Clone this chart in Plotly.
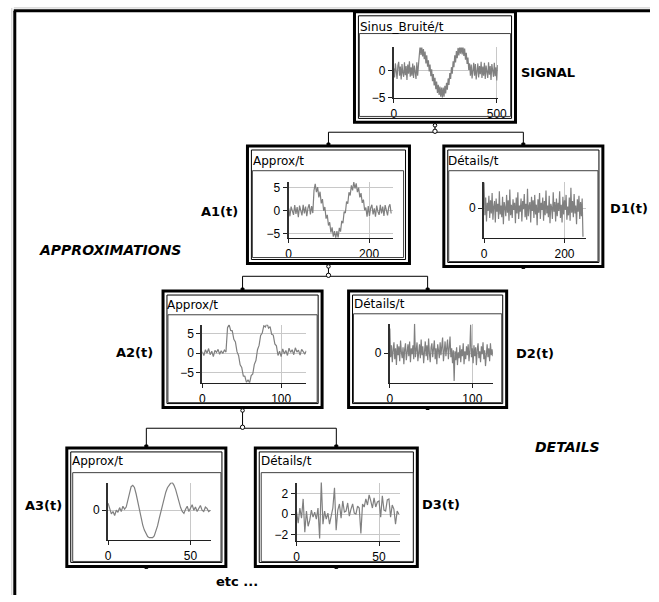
import plotly.graph_objects as go

# ---------------- data ----------------
signal_step = 4
signal = [0.5, -1.2, 1.4, -0.3, -1.5, 1.0, 1.7, -0.9, 0.8, -1.6, 1.3, -0.4, -1.1, 1.6, -0.8,
          0.9, -1.7, 1.2, -0.5, 1.8, -1.1, 0.7, -0.9, 1.4, -1.3, 1.0, -0.2, -1.5, 1.6, -0.9, 1.1,
          3.1, 4.8, 3.0, 4.5, 2.7, 4.1, 2.2, 3.6, 1.4, 2.9, 0.8, 2.0, -0.1, 1.2, -1.0, 0.3,
          -1.9, -0.6, -2.7, -1.3, -3.4, -2.0, -4.1, -2.6, -4.5, -2.9, -4.8, -3.1, -5.0,
          -3.1, -4.8, -2.8, -4.2, -2.2, -3.5, -1.4, -2.6, -0.4, -1.5, 0.7, -0.5, 1.8, 0.7,
          2.9, 1.6, 3.7, 2.4, 4.3, 2.9, 4.7, 3.2,
          4.8, 3.1, 4.7, 2.8, 4.2, 2.1, 3.4, 1.3, 2.5, 0.2, 1.4, -0.9,
          1.2, -1.4, 0.6, 1.5, -0.9, 1.3, -1.6, 0.4, 1.4, -1.2, 0.9, -0.6, 1.7, -1.3, 0.8,
          -0.9, 1.5, -1.5, 1.0, -0.2, -1.3, 1.6, -0.7, 0.9, -1.7, 1.3, -0.3, -1.1, 1.5, -1.0,
          0.7, -1.8, 1.1]

a1_step = 3
a1 = [0.5, -1.2, 0.9, -0.3, -0.9, 1.2, -0.7, 0.8, -1.4, 1.1, -0.4, -1.0, 1.3, -0.6, 0.9,
      -1.2, 0.6, 1.4, -0.8, 1.0, -0.5,
      4.4, 5.8, 4.0, 5.1, 2.9, 4.1, 1.6, 2.5, 0.0, 0.8, -1.7, -0.9, -3.2, -2.5, -4.7,
      -3.6, -5.6, -4.4, -5.9,
      -4.4, -5.8, -3.7, -4.5, -2.2, -2.7, -0.2, -0.5, 2.0, 1.5, 4.0, 3.3, 5.5, 4.4, 6.2,
      4.8, 5.9, 4.0, 5.0, 2.9, 3.8, 1.7, 2.4, 0.1, 0.7, -1.3,
      1.0, -1.1, 0.6, 1.3, -0.8, 0.5, -1.3, 1.1, -0.2, -0.9, 1.3, -0.6, 0.9, -1.1, 1.2,
      -0.3, -1.0, 0.8, 1.4, -0.6]

d1_step = 2
d1 = [2.9, -0.8, 1.2, -1.5, 0.6, -0.3, 1.4, -1.1, 0.9, -0.6, 1.7, -1.3, 0.2, 0.8, -1.6,
      1.1, -0.4, 0.5, -1.2, 1.9, -0.7, 0.3, -1.0, 1.3, -1.8, 0.7, 0.1, -0.9, 1.5, -0.5,
      0.9, -1.4, 2.1, -0.8, 0.4, -1.1, 1.0, -0.2, 0.6, -1.7, 1.2, -0.6, 1.8, -1.2, 0.3,
      -0.4, 1.1, -1.5, 0.8, -0.1, 1.6, -1.0, 0.5, -1.3, 2.2, -0.9, 0.2, 0.7, -1.6, 1.3,
      -0.3, 0.9, -1.1, 1.5, -0.7, 0.4, -1.9, 1.0, -0.5, 1.7, -1.2, 0.6, -0.2, 1.2, -1.4,
      0.8, -0.8, 2.0, -0.6, 0.3, -1.0, 1.4, -1.7, 0.5, 0.1, -1.2, 1.8, -0.4, 0.7, -1.5,
      1.1, -0.9, 0.6, -0.3, 1.9, -1.1, 0.4, -1.6, 1.3, -0.7, 0.9, -0.2, 1.5, -1.3, 0.2,
      -0.8, 1.2, -1.4, 2.3, -0.5, 0.8, -1.0, 1.6, -0.6, 0.3, -1.8, 1.0, -0.4, 1.4, -1.2,
      0.7, -0.9, 1.1, -3.2]

a2_step = 2
a2 = [0.4, -0.6, 0.9, 0.0, 1.2, -0.4, 0.5, -0.9, 0.7, 0.2, 1.0, -0.3, 0.6, -0.1, 0.8, 0.3,
      6.6, 7.4, 5.9, 5.8, 3.6, 2.9, 0.4, -0.6, -3.0, -3.7, -5.9, -6.0, -7.6,
      -6.9, -7.7, -5.8, -5.4, -2.9, -1.9, 0.9, 2.0, 4.6, 5.2, 7.1, 6.8,
      7.8, 6.5, 6.9, 4.9, 4.7, 2.4, 1.9, -0.6,
      0.5, -0.9, 1.1, -0.2, 0.7, -0.6, 1.3, 0.2, 0.9, -0.4, 1.4, 0.3, 0.8, -0.5, 1.0,
      0.4, -0.2, 0.6]

d2_step = 1
d2 = [2.5, -0.4, 0.8, -0.9, 0.3, 1.1, -0.6, 0.5, -1.2, 0.9, -0.2, 0.7, -0.8, 1.3, 0.1,
      -0.5, 0.6, -1.1, 0.4, 1.0, -0.7, 0.2, 0.9, -0.3, 1.2, -0.9, 0.5, -0.1, 0.8, -0.6,
      3.0, -0.4, 0.6, 1.1, -0.8, 0.3, 0.9, -0.5, 1.4, -0.2, 0.7, -1.0, 0.4, 1.2, -0.3,
      0.8, -0.7, 1.5, 0.0, -0.9, 0.6, 1.0, -0.4, 0.2, 1.3, -0.6, 0.5, -1.1, 0.9, 0.3,
      -0.5, 1.1, -0.2, 0.7, 1.6, -0.8, 0.4, 1.2, -0.3, 0.8, 1.4, -0.6, 0.9, 1.7, -0.4,
      0.5, -1.0, 0.3, -2.8, 0.2, -0.7, 0.6, -1.2, 0.1, -0.5, 0.8, -0.9, 0.4, -0.3, 1.0,
      -1.1, 0.2, -0.6, 0.7, -0.2, 0.9, -0.8, 0.3, 2.9, -0.4, 0.5, -1.0, 0.8, -0.3, 0.6,
      -1.2, 0.4, 1.0, -0.5, 0.2, -0.9, 0.7, -0.1, 1.1, -0.6, 0.3, -1.3, 0.6, 0.9, -0.4,
      0.5, -0.8, 1.0, -0.2, 0.4, -0.3]

a3_step = 1
a3 = [2.7, 0.4, -1.4, -0.5, -2.0, 0.0, -0.8, 1.0, -0.5, 1.5, 0.4, 1.2, 3.9, 6.9, 9.0,
      9.5, 8.7, 6.3, 3.3, 0.0, -3.2, -5.6, -7.6, -9.2, -10.1, -10.5, -10.6, -10.5, -9.8,
      -8.0, -6.0, -3.2, -0.5, 2.1, 4.5, 6.9, 8.6, 9.8, 10.4, 10.5, 9.5, 7.9, 5.5, 3.1,
      1.0, -0.5, -1.2, 0.4, 1.5, -0.5, 1.0, 2.1, 0.0, 1.2, -0.5, 1.0, 1.8, 0.0, -0.5,
      1.2, 0.7, -0.5, 0.0]

d3_step = 1
d3 = [0.2, -0.9, 0.6, -0.4, 1.5, -1.8, 0.3, -1.2, -0.6, 0.4, -0.3, 0.2, -0.5, 0.6, -2.4,
      3.2, -1.0, 0.3, -0.5, 0.1, -1.0, 0.0, 0.6, 2.6, -1.6, 0.4, 1.0, -0.4, 1.3, 0.2,
      0.3, 1.1, -0.2, 0.5, 1.0, 0.1, 0.0, 0.8, 0.6, -1.9, 1.0, 0.7, 1.5, 0.9, 1.9, 1.3,
      0.6, 1.6, 0.7, 1.2, 1.3, -0.3, 1.8, 0.4, 0.3, 1.4, 1.5, -0.3, 0.9, 0.5, -1.0, 0.3,
      0.0]

titles = ["Sinus_Bruité/t", "Approx/t", "Détails/t", "Approx/t", "Détails/t", "Approx/t", "Détails/t"]
x_ticks = [[0, 500], [0, 200], [0, 200], [0, 100], [0, 100], [0, 50], [0, 50]]
y_ticks = [[0, -5], [5, 0, -5], [0], [5, 0, -5], [0], [0], [2, 0, -2]]
labels = ["SIGNAL", "A1(t)", "D1(t)", "A2(t)", "D2(t)", "A3(t)", "D3(t)"]

series = [(signal, signal_step), (a1, a1_step), (d1, d1_step), (a2, a2_step),
          (d2, d2_step), (a3, a3_step), (d3, d3_step)]

# ---------------- layout (pixel geometry) ----------------
W, H = 659, 602


def X(px):
    return px / W


def Y(py):
    return 1 - py / H


panels = [
    dict(box=(358, 11, 522, 123), frame=(363, 33, 517, 117), xd=(398, 504), yd=(47, 98),
         xr=[0, 505], yr=[-5, 4.4], tp=(363, 26), lp=(527, 72)),
    dict(box=(249, 147, 414, 266), frame=(254, 172, 408, 260), xd=(291, 397), yd=(183, 240),
         xr=[0, 259], yr=[-5.85, 6.3], tp=(254, 162), lp=(201, 213)),
    dict(box=(449, 147, 611, 269), frame=(454, 172, 606, 264), xd=(490, 594), yd=(183, 240),
         xr=[0, 254], yr=[-3.33, 3.0], tp=(452, 162), lp=(617, 210)),
    dict(box=(163, 294, 325, 412), frame=(168, 318, 320, 407), xd=(203, 309), yd=(328, 387),
         xr=[0, 132], yr=[-7.7, 7.4], tp=(166, 308), lp=(114, 356)),
    dict(box=(352, 294, 513, 412), frame=(357, 317, 508, 407), xd=(394, 499), yd=(327, 387),
         xr=[0, 125], yr=[-3, 3], tp=(357, 307), lp=(521, 357)),
    dict(box=(65, 453, 227, 573), frame=(71, 478, 222, 568), xd=(107, 212), yd=(488, 546),
         xr=[0, 62.5], yr=[-11.3, 10.6], tp=(69, 466), lp=(21, 511)),
    dict(box=(257, 453, 422, 573), frame=(263, 478, 418, 568), xd=(299, 404), yd=(488, 547),
         xr=[0, 62.5], yr=[-2.63, 3.12], tp=(262, 466), lp=(426, 510)),
]

GRAY = "#808080"
TICKFONT = dict(family="Liberation Sans Narrow, Arial Narrow, Liberation Sans, sans-serif",
                size=12, color="black")
TITLEFONT = dict(family="DejaVu Sans, Liberation Sans, sans-serif", size=12, color="black")
BOLDFONT = dict(family="DejaVu Sans, Liberation Sans, sans-serif", size=13, color="black")

fig = go.Figure()
layout = dict(width=W, height=H, autosize=False, margin=dict(l=0, r=0, t=0, b=0, pad=0),
              showlegend=False, paper_bgcolor="white", plot_bgcolor="white", hovermode=False)
shapes = []
annotations = []


def line(x0, y0, x1, y1, w=1, color="black"):
    shapes.append(dict(type="line", xref="paper", yref="paper", x0=X(x0), y0=Y(y0), x1=X(x1), y1=Y(y1),
                       line=dict(color=color, width=w), layer="above"))


def rect(x0, y0, x1, y1, w=1, color="black", fill=None):
    d = dict(type="rect", xref="paper", yref="paper", x0=X(x0), y0=Y(y0), x1=X(x1), y1=Y(y1),
             line=dict(color=color, width=w), layer="above")
    if fill:
        d["fillcolor"] = fill
    shapes.append(d)


def circle(cx, cy, r=2.2, fill="white"):
    shapes.append(dict(type="circle", xref="paper", yref="paper", x0=X(cx - r), y0=Y(cy + r),
                       x1=X(cx + r), y1=Y(cy - r), line=dict(color="black", width=1),
                       fillcolor=fill, layer="above"))


def text(x, y, s, font, anchor="left"):
    annotations.append(dict(xref="paper", yref="paper", x=X(x), y=Y(y), text=s, showarrow=False,
                            xanchor=anchor, yanchor="middle", font=font, borderpad=0))


for i, (p, (vals, step)) in enumerate(zip(panels, series), start=1):
    xa = "x" if i == 1 else f"x{i}"
    ya = "y" if i == 1 else f"y{i}"
    t = [k * step for k in range(len(vals))]
    fig.add_trace(go.Scatter(x=t, y=vals, xaxis=xa, yaxis=ya, mode="lines",
                             line=dict(color=GRAY, width=1.2), hoverinfo="skip"))
    xk = "xaxis" if i == 1 else f"xaxis{i}"
    yk = "yaxis" if i == 1 else f"yaxis{i}"
    layout[xk] = dict(domain=[X(p["xd"][0]), X(p["xd"][1])], range=p["xr"], anchor=ya,
                      tickmode="array", tickvals=x_ticks[i - 1], ticks="outside", ticklen=4,
                      tickcolor="#202020", showline=True, linecolor="#202020", linewidth=1.5,
                      showgrid=True, gridcolor="#c8c8c8", gridwidth=1, zeroline=False,
                      tickfont=TICKFONT, fixedrange=True)
    layout[yk] = dict(domain=[Y(p["yd"][1]), Y(p["yd"][0])], range=p["yr"], anchor=xa,
                      tickmode="array", tickvals=y_ticks[i - 1], ticks="outside", ticklen=4,
                      tickcolor="#202020", showline=True, linecolor="#303030", linewidth=2,
                      showgrid=True, gridcolor="#c8c8c8", gridwidth=1, zeroline=False,
                      tickfont=TICKFONT, fixedrange=True)
    bx0, by0, bx1, by1 = p["box"]
    rect(bx0, by0, bx1, by1, w=3)
    rect(bx0 + 4, by0 + 4, bx1 - 4, by1 - 4, w=1)
    fx0, fy0, fx1, fy1 = p["frame"]
    rect(fx0, fy0, fx1, fy1, w=1, color="#404040")
    text(p["tp"][0], p["tp"][1], titles[i - 1], TITLEFONT)
    text(p["lp"][0], p["lp"][1], "<b>" + labels[i - 1] + "</b>", BOLDFONT)

# page frame
line(11, 7, 659, 7, w=1, color="#c8c8c8")
line(9, 7, 9, 602, w=1, color="#c8c8c8")
line(11, 10, 659, 10, w=3)
line(12, 10, 12, 602, w=3)


def connect(parent, left, right, ybar):
    pcx = (parent["box"][0] + parent["box"][2]) / 2
    lcx = (left["box"][0] + left["box"][2]) / 2
    rcx = (right["box"][0] + right["box"][2]) / 2
    line(pcx, parent["box"][3], pcx, ybar)
    line(lcx, ybar, rcx, ybar)
    line(lcx, ybar, lcx, left["box"][1])
    line(rcx, ybar, rcx, right["box"][1])
    circle(pcx, ybar - 1)
    circle(pcx, parent["box"][3] + 3, r=1.8)
    rect(lcx - 1.5, left["box"][1] - 3, lcx + 1.5, left["box"][1], w=1, fill="black")
    rect(rcx - 1.5, right["box"][1] - 3, rcx + 1.5, right["box"][1], w=1, fill="black")


connect(panels[0], panels[1], panels[2], 133)
connect(panels[1], panels[3], panels[4], 279)
connect(panels[3], panels[5], panels[6], 433)
for p in (panels[2], panels[4], panels[5], panels[6]):
    cx = (p["box"][0] + p["box"][2]) / 2
    rect(cx - 1.5, p["box"][3], cx + 1.5, p["box"][3] + 2, w=1, fill="black")

BIGITALIC = dict(family="DejaVu Sans, Liberation Sans, sans-serif", size=14, color="black")
text(36, 252, "<b><i>APPROXIMATIONS</i></b>", BIGITALIC)
text(541, 452, "<b><i>DETAILS</i></b>", BIGITALIC)
text(216, 588, "<b>etc ...</b>", BOLDFONT)

layout["shapes"] = shapes
layout["annotations"] = annotations
fig.update_layout(**layout)

fig.write_html("out.html", config={"displayModeBar": False, "staticPlot": True},
               post_script="document.body.style.margin='0';document.body.style.overflow='hidden';")
